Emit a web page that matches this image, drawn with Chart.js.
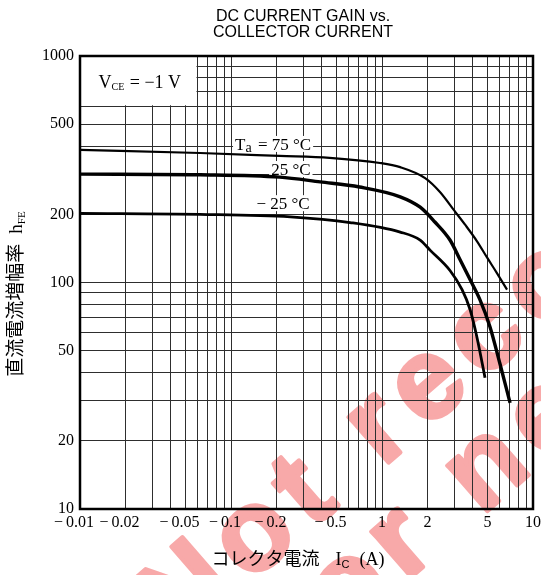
<!DOCTYPE html>
<html><head><meta charset="utf-8">
<script src="https://cdn.jsdelivr.net/npm/chart.js@4/dist/chart.umd.min.js"></script>
<style>html,body{margin:0;padding:0;background:#fff;}#wrap{width:541px;height:575px;}</style>
</head><body><div id="wrap"><canvas id="c" width="541" height="575"></canvas></div>
<script>
// ---------- data ----------
const titleLines = ['DC CURRENT GAIN vs.', 'COLLECTOR CURRENT'];
const xGridValues = [0.01,0.02,0.03,0.04,0.05,0.06,0.07,0.08,0.09,0.1,0.2,0.3,0.4,0.5,0.6,0.7,0.8,0.9,1,2,3,4,5,6,7,8,9,10];
const xLabelValues = [0.01,0.02,0.05,0.1,0.2,0.5,1,2,5,10];
const xLabelTexts = ['0.01','0.02','0.05','0.1','0.2','0.5','1','2','5','10'];
const xLabelNegative = [true,true,true,true,true,true,false,false,false,false];
const yGridValues = [10,20,30,40,50,60,70,80,90,100,200,300,400,500,600,700,800,900,1000];
const yLabelValues = [10,20,50,100,200,500,1000];

const seriesNames = ['Ta = 75 °C','25 °C','−25 °C'];
const ic75  = [0.01,0.0624,0.21,0.45,0.97,1.32,1.93,2.42,3.04,3.55,4.26,4.96,5.77,6.73];
const hfe75 = [385, 373, 362, 355, 337, 323, 289, 251, 206, 180, 152, 129, 110, 93];
const ic25  = [0.01,0.0624,0.21,0.39,0.71,1.32,1.79,2.24,2.82,3.29,3.83,4.45,5.18,6.03,7.05];
const hfe25 = [301, 299, 292, 278, 264, 239, 215, 185, 154, 126, 103, 84, 64, 44, 29.4];
const icm25  = [0.01,0.0624,0.247,0.614,1.32,1.79,2.08,2.82,3.39,3.83,4.26,4.81];
const hfem25 = [202, 200, 195, 184, 167, 154, 139, 113, 93, 76, 57, 38];

// label anchors in data units (x in A, y in hFE)
const curveLabelX = [0.19, 0.249, 0.221];
const curveLabelY = [409, 317, 224];
const condText = ['V','CE',' = −1 V'];
const condBoxX = 0.06, condBoxY = 600;
const xTitle = ['コレクタ電流','I','C','(A)'];
const yTitle = ['直流電流増幅率','h','FE'];
const watermarkLines = ['Not recommended','for new design'];

const SERIF = '"Liberation Serif","DejaVu Serif",serif';
const SANS = '"Liberation Sans",Arial,sans-serif';
const CJK = '"Noto Sans CJK JP",sans-serif';

function toXY(xs, ys){ return xs.map((x,i)=>({x:x, y:ys[i]})); }

function runsWidth(ctx, runs){
  let w=0; for(const r of runs){ ctx.font=r.f; w+=ctx.measureText(r.t).width + (r.gap||0);} return w;
}
function drawRuns(ctx, runs, x, y){
  let cx=x;
  for(const r of runs){ ctx.font=r.f; ctx.fillText(r.t, cx, y+(r.dy||0)); cx+=ctx.measureText(r.t).width+(r.gap||0); }
}

const decor = {
  id:'decor',
  beforeDraw(chart){
    const ctx=chart.ctx;
    ctx.save();
    ctx.fillStyle='#fff'; ctx.fillRect(0,0,chart.width,chart.height);
    // watermark
    const S=115, a=-41*Math.PI/180;
    ctx.font='bold '+S+'px '+SANS;
    ctx.letterSpacing='12px';
    ctx.fillStyle='#f8a9a9'; ctx.strokeStyle='#f8a9a9'; ctx.lineWidth=4; ctx.lineJoin='round';
    ctx.textBaseline='alphabetic';
    const ux=Math.cos(a), uy=Math.sin(a);
    let along = ctx.measureText('No').width + ctx.measureText('t').width/2;
    let px=310, py=490;
    ctx.save(); ctx.translate(px-along*ux, py-along*uy); ctx.rotate(a);
    ctx.fillText(watermarkLines[0], 0, 0.27*S); ctx.strokeText(watermarkLines[0], 0, 0.27*S); ctx.restore();
    along = ctx.measureText('for ').width + ctx.measureText('n').width/2;
    px=492; py=466;
    ctx.save(); ctx.translate(px-along*ux, py-along*uy); ctx.rotate(a);
    ctx.fillText(watermarkLines[1], 0, 0.27*S); ctx.strokeText(watermarkLines[1], 0, 0.27*S); ctx.restore();
    ctx.restore();
  },
  beforeDatasetsDraw(chart){
    const ctx=chart.ctx, xs=chart.scales.x, ys=chart.scales.y, ca=chart.chartArea;
    ctx.save();
    ctx.fillStyle='#fff';
    const bx=xs.getPixelForValue(condBoxX), by=ys.getPixelForValue(condBoxY);
    ctx.fillRect(ca.left, ca.top, bx-ca.left-1, by-ca.top-1);
    ctx.fillStyle='#000'; ctx.textBaseline='alphabetic';
    const runs=[{t:condText[0],f:'18px '+SERIF},{t:condText[1],f:'10px '+SERIF,dy:2,gap:1},{t:condText[2],f:'18px '+SERIF}];
    const w=runsWidth(ctx,runs);
    drawRuns(ctx, runs, (ca.left+bx)/2-w/2+1, (ca.top+by)/2+7);
    const labelRuns=[
      [{t:'T',f:'17px '+SERIF},{t:'a',f:'14px '+SERIF,dy:2,gap:2},{t:' = 75 °C',f:'17px '+SERIF}],
      [{t:'25 °C',f:'17px '+SERIF}],
      [{t:'− 25 °C',f:'17px '+SERIF}]
    ];
    for(let i=0;i<3;i++){
      const cx=xs.getPixelForValue(curveLabelX[i]), cy=ys.getPixelForValue(curveLabelY[i]);
      const w2=runsWidth(ctx,labelRuns[i]);
      ctx.fillStyle='#fff'; ctx.fillRect(cx-w2/2-2, cy-8, w2+4, 16);
      ctx.fillStyle='#000'; drawRuns(ctx, labelRuns[i], cx-w2/2, cy+6);
    }
    ctx.restore();
  },
  afterDraw(chart){
    const ctx=chart.ctx, xs=chart.scales.x, ys=chart.scales.y, ca=chart.chartArea;
    ctx.save();
    ctx.strokeStyle='#000'; ctx.lineWidth=2.5;
    ctx.strokeRect(ca.left, ca.top, ca.right-ca.left, ca.bottom-ca.top);
    ctx.fillStyle='#000';
    ctx.font='16px '+SANS; ctx.textAlign='center'; ctx.textBaseline='middle';
    ctx.fillText(titleLines[0], 303, 17);
    ctx.fillText(titleLines[1], 303, 33);
    ctx.font='16px '+SERIF; ctx.textBaseline='middle';
    for(let i=0;i<xLabelValues.length;i++){
      const px=xs.getPixelForValue(xLabelValues[i]);
      ctx.textAlign='center';
      ctx.fillText(xLabelTexts[i], px, 523);
      if(xLabelNegative[i]){
        const w=ctx.measureText(xLabelTexts[i]).width;
        ctx.textAlign='right';
        ctx.fillText('−', px-w/2-3, 523);
      }
    }
    ctx.textAlign='left'; ctx.textBaseline='alphabetic';
    const xr=[{t:xTitle[0],f:'18px '+CJK,gap:16},{t:xTitle[1],f:'18px '+SERIF},{t:xTitle[2],f:'11px '+SANS,dy:3,gap:10},{t:xTitle[3],f:'18px '+SERIF}];
    const xw=runsWidth(ctx,xr);
    drawRuns(ctx, xr, 298-xw/2, 565);
    const yr=[{t:yTitle[0],f:'19px '+CJK,gap:10},{t:yTitle[1],f:'19px '+SERIF},{t:yTitle[2],f:'11px '+SERIF,dy:3}];
    const yw=runsWidth(ctx,yr);
    ctx.translate(22, 294); ctx.rotate(-Math.PI/2);
    drawRuns(ctx, yr, -yw/2, 0);
    ctx.restore();
  }
};

const gridStyle = {color:'#2e2e2e', lineWidth:1, drawTicks:false};
new Chart(document.getElementById('c'), {
  type:'line',
  data:{datasets:[
    {label:seriesNames[0], data:toXY(ic75,hfe75), borderColor:'#000', borderWidth:2.2, pointRadius:0, cubicInterpolationMode:'monotone'},
    {label:seriesNames[1], data:toXY(ic25,hfe25), borderColor:'#000', borderWidth:3.4, pointRadius:0, cubicInterpolationMode:'monotone'},
    {label:seriesNames[2], data:toXY(icm25,hfem25), borderColor:'#000', borderWidth:2.8, pointRadius:0, cubicInterpolationMode:'monotone'}
  ]},
  options:{
    responsive:false, animation:false, devicePixelRatio:1,
    layout:{padding:{top:56,right:8,left:0,bottom:0}},
    plugins:{legend:{display:false}, tooltip:{enabled:false}, title:{display:false}},
    scales:{
      x:{type:'logarithmic', min:0.01, max:10,
         afterBuildTicks:s=>{s.ticks=xGridValues.map(v=>({value:v}));},
         afterFit:s=>{s.height=66;},
         ticks:{display:false}, grid:gridStyle, border:{display:false}},
      y:{type:'logarithmic', min:10, max:1000,
         afterBuildTicks:s=>{s.ticks=yGridValues.map(v=>({value:v}));},
         afterFit:s=>{s.width=80;},
         ticks:{autoSkip:false, padding:6, color:'#000', font:{family:'Liberation Serif', size:16},
                callback:(v)=> yLabelValues.includes(v)? String(v) : ''},
         grid:gridStyle, border:{display:false}}
    }
  },
  plugins:[decor]
});
</script></body></html>
